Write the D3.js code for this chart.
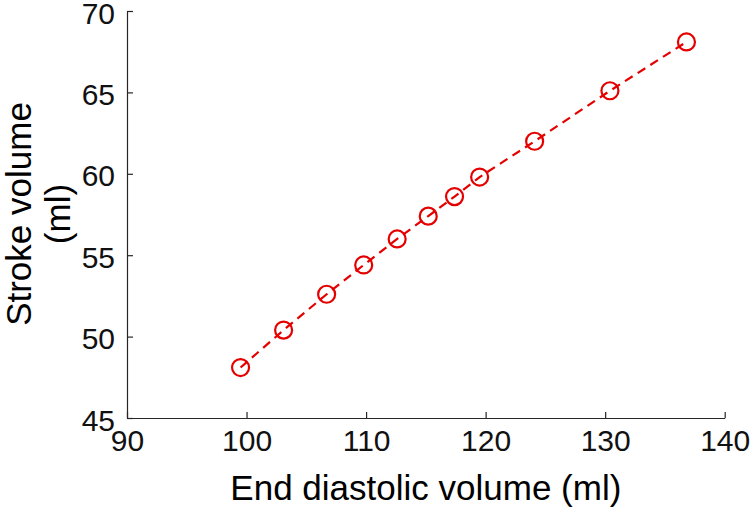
<!DOCTYPE html>
<head>
  <meta charset="utf-8">
  <script src="https://d3js.org/d3.v7.min.js"></script>
  <style>
    body { margin:0; background:#fff; }
    text { font-family: "Liberation Sans", Arial, sans-serif; fill:#000; }
    .axis path, .axis line { stroke:#262626; stroke-width:1.2; }
    .axis text { font-size:30px; fill:#111; }
  </style>
</head>
<body>
  <div class="chart"></div>
  <script>
  // end diastolic volume (ml) and stroke volume (ml)
  const edv = [99.5, 103.1, 106.7, 109.8, 112.6, 115.2, 117.4, 119.5, 124.1, 130.4, 136.8];
  const sv  = [48.1, 50.4, 52.6, 54.4, 56.0, 57.4, 58.6, 59.8, 62.0, 65.1, 68.1];
  const xTicks = [90, 100, 110, 120, 130, 140];
  const yTicks = [45, 50, 55, 60, 65, 70];

  const data = edv.map((v, i) => ({x: v, y: sv[i]}));

  const width = 750, height = 510;
  const margin = {top: 11, right: 25, bottom: 92, left: 127};

  const svg = d3.select('.chart')
    .append('svg')
      .attr('width', width)
      .attr('height', height);

  const g = svg.append('g')
    .attr('transform', `translate(${margin.left},${margin.top})`);

  const w = 724.7 - margin.left, h = 418 - margin.top;

  let xScale = d3.scaleLinear().domain([90, 140]).range([0, w]);
  let yScale = d3.scaleLinear().domain([45, 70]).range([h, 0]);

  g.append('g')
    .attr('class', 'axis')
    .attr('transform', `translate(0,${h})`)
    .call(d3.axisBottom(xScale).tickValues(xTicks).tickSizeInner(-6).tickSizeOuter(0).tickPadding(12));

  g.append('g')
    .attr('class', 'axis')
    .call(d3.axisLeft(yScale).tickValues(yTicks).tickSizeInner(-6).tickSizeOuter(0).tickPadding(12))
    .selectAll('text').attr('dy', '0.4em');

  const red = '#e50000';

  const line = d3.line()
    .x(d => xScale(d.x))
    .y(d => yScale(d.y));

  g.append('path')
    .datum(data)
    .attr('d', line)
    .attr('fill', 'none')
    .attr('stroke', red)
    .attr('stroke-width', 2.2)
    .attr('stroke-dasharray', '9,6');

  g.selectAll('.pt')
    .data(data)
    .enter()
    .append('circle')
    .attr('class', 'pt')
    .attr('cx', d => xScale(d.x))
    .attr('cy', d => yScale(d.y))
    .attr('r', 8.5)
    .attr('fill', 'none')
    .attr('stroke', red)
    .attr('stroke-width', 2.2);

  // axis titles
  svg.append('text')
    .attr('x', margin.left + w / 2)
    .attr('y', 500)
    .attr('text-anchor', 'middle')
    .style('font-size', '35px')
    .text('End diastolic volume (ml)');

  const yt = svg.append('text')
    .attr('transform', 'translate(0,214) rotate(-90)')
    .attr('text-anchor', 'middle')
    .style('font-size', '35px');
  yt.append('tspan').attr('x', 0).attr('y', 31).text('Stroke volume');
  yt.append('tspan').attr('x', 0).attr('y', 70).text('(ml)');
  </script>
</body>
